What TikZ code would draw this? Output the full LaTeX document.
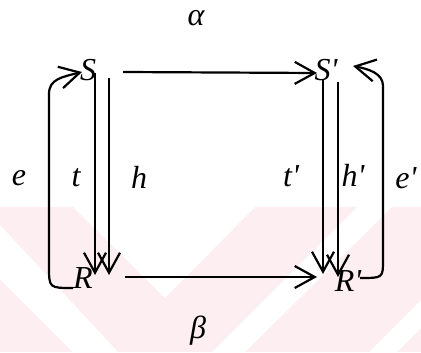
\documentclass[tikz,border=0pt]{standalone}
\usepackage{fontspec}
\setmainfont{Liberation Serif}[Ligatures=TeXOff]
\usetikzlibrary{arrows.meta,calc}
\definecolor{wm}{RGB}{253,238,241}
\begin{document}
\begin{tikzpicture}[x=0.5pt,y=-0.5pt,
  lbl/.style={font=\fontsize{16}{19}\selectfont\itshape, inner sep=0pt},
  conn/.style={line width=1.1pt, -{Straight Barb[length=10pt,width=11pt]}}]
\useasboundingbox (0,0) rectangle (421,352);
% faint watermark
\fill[wm] (0,207) rectangle (421,352);
\fill[white] (73,207) -- (255,207) -- (165,298) -- cycle;
\fill[white] (0,225) -- (0,279) -- (73,352) -- (118,352) -- cycle;
\fill[white] (357,207) -- (392,207) -- (245,352) -- (212,352) -- cycle;
\fill[white] (421,300) -- (421,328) -- (397,352) -- (369,352) -- cycle;
% objects
\node[lbl] (S) at (88,70) {S};
\node[lbl] (Sp) at (326,70) {S'};
\node[lbl] (R) at (83,278) {R};
\node[lbl] (Rp) at (348,281) {R'};
% labels
\node[lbl] (al) at (196,18) {α};
\node[lbl] (be) at (198,331) {β};
\node[lbl] (le) at (19,178) {e};
\node[lbl] (lt) at (76,178) {t};
\node[lbl] (lh) at (139,177) {h};
\node[lbl] (ltp) at (291,176) {t'};
\node[lbl] (lhp) at (353,175) {h'};
\node[lbl] (lep) at (406,178) {e'};
% connectors
\draw[conn] ($(S)+(35,2)$) -- ($(Sp)+(-9,3)$);
\draw[conn] ($(R)+(42,-1)$) -- ($(Rp)+(-31,-4)$);
\draw[conn] ($(S)+(7,3)$) -- ($(R)+(12,-3)$);
\draw[conn] ($(S)+(21,8)$) -- ($(R)+(26,-3)$);
\draw[conn] ($(Sp)+(-3,10)$) -- ($(Rp)+(-25,-7)$);
\draw[conn] ($(Sp)+(12,12)$) -- ($(Rp)+(-10,-4)$);
\draw[conn] ($(R)+(-10,10)$) .. controls (49,288) .. (49,266) -- (49,94) .. controls (49,79) and (62,77) .. ($(S)+(-6,2)$);
\draw[conn] ($(Rp)+(12,-3)$) .. controls (383,278) .. (383,260) -- (383,86) .. controls (383,73) and (368,69) .. ($(Sp)+(27,-4)$);
\end{tikzpicture}
\end{document}
